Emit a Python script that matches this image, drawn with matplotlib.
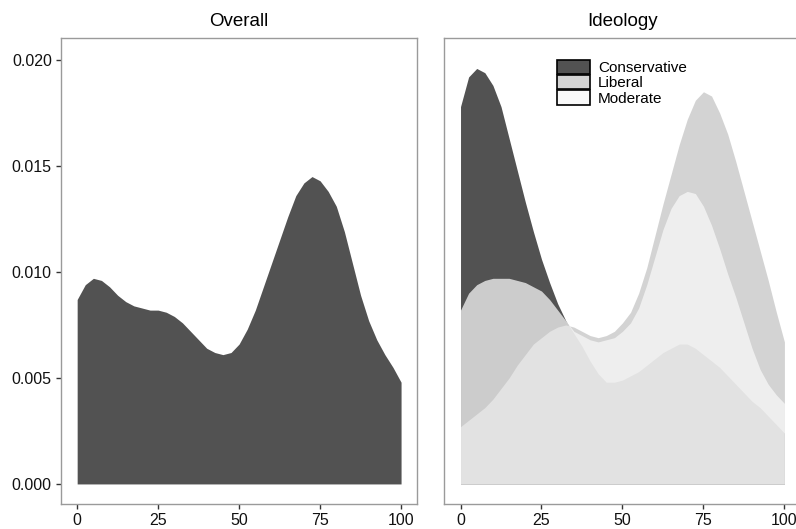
import matplotlib
matplotlib.use('Agg')
import matplotlib.pyplot as plt
from matplotlib.patches import Patch
from matplotlib.colors import to_rgba

plt.rcParams['font.family'] = ['Liberation Sans', 'DejaVu Sans']

# ----- data -------------------------------------------------------------
score = [0, 2.5, 5, 7.5, 10, 12.5, 15, 17.5, 20, 22.5, 25, 27.5, 30, 32.5,
         35, 37.5, 40, 42.5, 45, 47.5, 50, 52.5, 55, 57.5, 60, 62.5, 65, 67.5,
         70, 72.5, 75, 77.5, 80, 82.5, 85, 87.5, 90, 92.5, 95, 97.5, 100]

overall = [0.0087, 0.0094, 0.0097, 0.0096, 0.0093, 0.0089, 0.0086, 0.0084,
           0.0083, 0.0082, 0.0082, 0.0081, 0.0079, 0.0076, 0.0072, 0.0068,
           0.0064, 0.0062, 0.0061, 0.0062, 0.0066, 0.0073, 0.0082, 0.0093,
           0.0104, 0.0115, 0.0126, 0.0136, 0.0142, 0.0145, 0.0143, 0.0138,
           0.0131, 0.0119, 0.0104, 0.0089, 0.0077, 0.0068, 0.0061, 0.0055,
           0.0048]

conservative = [0.0178, 0.0192, 0.0196, 0.0194, 0.0188, 0.0178, 0.0163, 0.0148,
                0.0133, 0.0119, 0.0106, 0.0095, 0.0085, 0.0077, 0.0071, 0.0065,
                0.0058, 0.0052, 0.0048, 0.0048, 0.0049, 0.0051, 0.0053, 0.0056,
                0.0059, 0.0062, 0.0064, 0.0066, 0.0066, 0.0064, 0.0061, 0.0058,
                0.0055, 0.0051, 0.0047, 0.0043, 0.0039, 0.0036, 0.0032, 0.0028,
                0.0024]

liberal = [0.0027, 0.0030, 0.0033, 0.0036, 0.0040, 0.0045, 0.0050, 0.0056,
           0.0061, 0.0066, 0.0069, 0.0072, 0.0074, 0.0075, 0.0074, 0.0072,
           0.0070, 0.0069, 0.0070, 0.0072, 0.0076, 0.0081, 0.0090, 0.0102,
           0.0117, 0.0132, 0.0146, 0.0160, 0.0172, 0.0181, 0.0185, 0.0183,
           0.0175, 0.0165, 0.0152, 0.0138, 0.0124, 0.0110, 0.0096, 0.0081,
           0.0067]

moderate = [0.0082, 0.0090, 0.0094, 0.0096, 0.0097, 0.0097, 0.0097, 0.0096,
            0.0095, 0.0093, 0.0091, 0.0087, 0.0082, 0.0077, 0.0072, 0.0070,
            0.0068, 0.0067, 0.0068, 0.0069, 0.0072, 0.0076, 0.0083, 0.0094,
            0.0107, 0.0120, 0.0130, 0.0136, 0.0138, 0.0137, 0.0131, 0.0122,
            0.0111, 0.0099, 0.0088, 0.0076, 0.0064, 0.0054, 0.0047, 0.0042,
            0.0038]

groups = ['Conservative', 'Liberal', 'Moderate']
group_vals = [conservative, liberal, moderate]
group_cols = ['#151515', '#c4c4c4', '#f8f8f8']
alpha = 0.74

xticks = [0, 25, 50, 75, 100]
yticks = [0.000, 0.005, 0.010, 0.015, 0.020]

# ----- figure -----------------------------------------------------------
fig = plt.figure(figsize=(7.96, 5.29), dpi=100, facecolor='w')
ax1 = fig.add_axes([0.0766, 0.0467, 0.4476, 0.882])
ax2 = fig.add_axes([0.5582, 0.0467, 0.4476, 0.882])

ax1.fill_between(score, 0, overall, color='#525252', linewidth=0)

for vals, col in zip(group_vals, group_cols):
    ax2.fill_between(score, 0, vals, color=col, alpha=alpha, linewidth=0)

for ax, title in zip([ax1, ax2], ['Overall', 'Ideology']):
    ax.set_xlim(-5, 105)
    ax.set_ylim(-0.00096, 0.02105)
    ax.set_xticks(xticks)
    ax.set_xticklabels([str(t) for t in xticks])
    ax.set_title(title, fontsize=13.5, pad=8.5)
    for sp in ax.spines.values():
        sp.set_color('#9a9a9a')
        sp.set_linewidth(1.0)
    ax.tick_params(direction='out', length=3.6, width=1.0, color='#333333',
                   labelsize=11.5, labelcolor='#111111', pad=3)

ax1.set_yticks(yticks)
ax1.set_yticklabels(['%.3f' % t for t in yticks])
ax2.set_yticks([])

handles = [Patch(facecolor=to_rgba(c, alpha), edgecolor='black', linewidth=1.2)
           for c in group_cols]
ax2.legend(handles, groups, loc='upper left', bbox_to_anchor=(0.296, 0.969),
           frameon=False, fontsize=11, borderpad=0, labelspacing=0,
           handlelength=2.1, handleheight=1.05, handletextpad=0.55)

fig.savefig('out.png', dpi=100, facecolor='w')
